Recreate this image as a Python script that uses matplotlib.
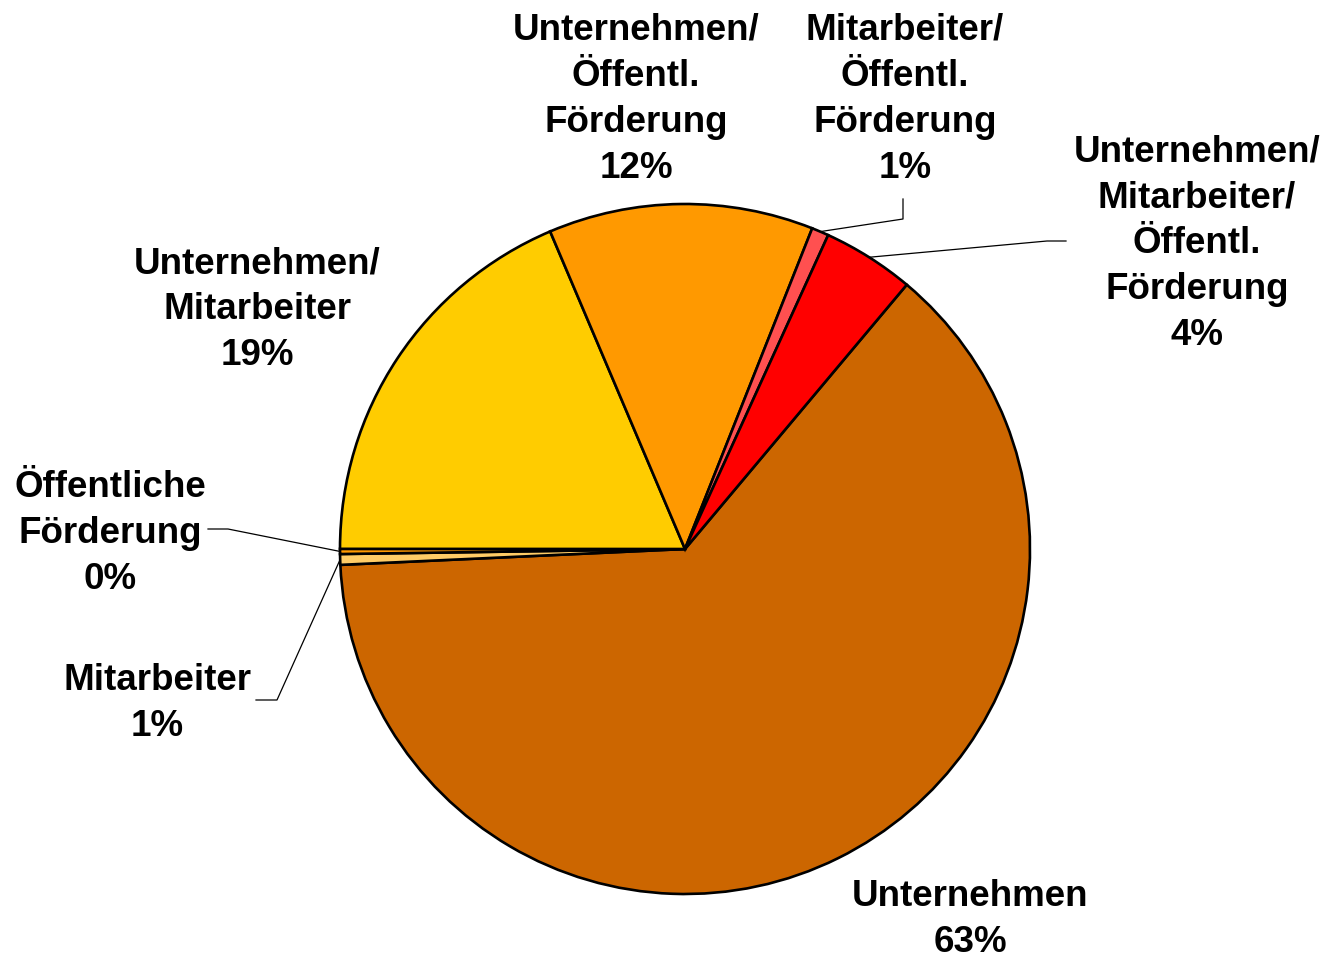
import numpy as np
import matplotlib as mpl
import matplotlib.pyplot as plt

mpl.rcParams.update(
    {
        "font.family": ["Liberation Sans", "DejaVu Sans"],
        "font.weight": "bold",
    }
)

# slice order as in the source (drawn clockwise from 50 deg)
labels = [
    "Unternehmen\n63%",
    "Mitarbeiter\n1%",
    "Öffentliche\nFörderung\n0%",
    "Unternehmen/\nMitarbeiter\n19%",
    "Unternehmen/\nÖffentl.\nFörderung\n12%",
    "Mitarbeiter/\nÖffentl.\nFörderung\n1%",
    "Unternehmen/\nMitarbeiter/\nÖffentl.\nFörderung\n4%",
]
shares = [63.15, 0.5, 0.24, 18.6, 12.4, 0.8, 4.3]
colors = ["#CC6600", "#FFCC66", "#FF9900", "#FFCC00", "#FF9900", "#FF5050", "#FF0000"]

W, H = 1328, 962
CX, CY, R = 685, H - 550, 345

# label placement in pixel coords (x, y-top of text block), and leader elbows
label_pos = [
    (970, 879),
    (157, 663),
    (110, 470),
    (257, 246),
    (636, 13),
    (905, 13),
    (1197, 134),
]
leaders = {
    1: [(256, 701), (277, 701)],
    2: [(208, 530), (228, 530)],
    5: [(903, 200), (903, 220)],
    6: [(1066, 242), (1047, 242)],
}


def main() -> None:
    fig = plt.figure(figsize=(W / 100, H / 100), dpi=100)
    ax = fig.add_axes([0, 0, 1, 1])
    wedges, _ = ax.pie(
        shares,
        colors=colors,
        startangle=50,
        counterclock=False,
        center=(CX, CY),
        radius=R,
        wedgeprops={"edgecolor": "black", "linewidth": 1.9},
    )
    ax.set_xlim(0, W)
    ax.set_ylim(0, H)
    ax.set_aspect("equal")
    ax.axis("off")

    for i, (w, lab) in enumerate(zip(wedges, labels)):
        x, y = label_pos[i]
        ax.text(
            x, H - y, lab, ha="center", va="top", fontsize=26.5,
            fontweight="bold", linespacing=1.41,
        )
        if i in leaders:
            mid = np.deg2rad(0.5 * (w.theta1 + w.theta2))
            ex, ey = CX + R * np.cos(mid), CY + R * np.sin(mid)
            pts = [(px, H - py) for px, py in leaders[i]] + [(ex, ey)]
            xs, ys = zip(*pts)
            ax.plot(xs, ys, color="black", lw=0.9)

    fig.savefig("out.png", dpi=100)
    plt.close(fig)


if __name__ == "__main__":
    main()
